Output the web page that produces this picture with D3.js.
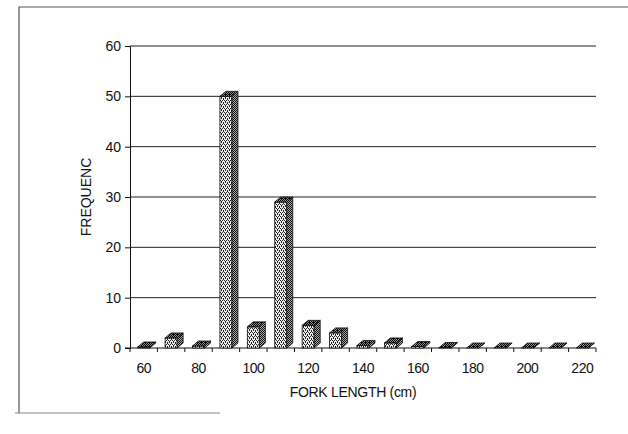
<!DOCTYPE html>
<html>
<head>
<meta charset="utf-8">
<script src="https://cdn.jsdelivr.net/npm/d3@7"></script>
<style>
  html, body { margin: 0; padding: 0; background: #fff; }
  svg { display: block; font-family: "Liberation Sans", Arial, sans-serif; }
</style>
</head>
<body>
<svg id="chart" width="628" height="434"></svg>
<script>
// Fork length classes (cm) and counts per class
const lengthClasses = [60, 70, 80, 90, 100, 110, 120, 130, 140, 150, 160, 170, 180, 190, 200, 210, 220];
const frequency     = [0.2, 2, 0.4, 50, 4.2, 29, 4.5, 3, 0.5, 1, 0.3, 0.1, 0, 0, 0, 0, 0];
const yTicks = [0, 10, 20, 30, 40, 50, 60];
const xLabelClasses = [60, 80, 100, 120, 140, 160, 180, 200, 220];

const svg = d3.select("#chart");
const margin = { left: 130, right: 32, top: 46, bottom: 86 };
const W = 628, H = 434;
const x0 = margin.left, x1 = W - margin.right;
const yTop = margin.top, yBase = 348;

const x = d3.scaleBand().domain(lengthClasses).range([x0, x1])
  .paddingInner(0.56).paddingOuter(0.28);
const y = d3.scaleLinear().domain([0, 60]).range([yBase, yTop]);

// stipple fills for the bar faces
const defs = svg.append("defs");
function stipple(id, bg, dot, dots) {
  const p = defs.append("pattern").attr("id", id)
    .attr("width", 4).attr("height", 4).attr("patternUnits", "userSpaceOnUse");
  p.append("rect").attr("width", 4).attr("height", 4).attr("fill", bg);
  dots.forEach(([px, py]) =>
    p.append("rect").attr("x", px).attr("y", py).attr("width", 1).attr("height", 1).attr("fill", dot));
}
stipple("frontFill", "#eeeeee", "#222", [[0, 0], [2, 0], [1, 2], [3, 2], [1, 1], [3, 3]]);
stipple("sideFill", "#a8a8a8", "#111", [[0, 0], [2, 0], [1, 1], [3, 1], [0, 2], [2, 2], [1, 3], [3, 3]]);
stipple("topFill", "#8a8a8a", "#000", [[0, 0], [2, 0], [1, 1], [3, 1], [0, 2], [2, 2], [1, 3], [3, 3], [1, 2]]);

// outer frame
svg.append("path").attr("d", `M19,413 L19,7 L628,7`)
  .attr("fill", "none").attr("stroke", "#555").attr("stroke-width", 1.2);
svg.append("line").attr("x1", 15).attr("x2", 220).attr("y1", 413).attr("y2", 413)
  .attr("stroke", "#888").attr("stroke-width", 1.2);

// horizontal gridlines
svg.append("g").selectAll("line").data(yTicks.filter(d => d > 0)).join("line")
  .attr("x1", x0).attr("x2", x1)
  .attr("y1", d => y(d)).attr("y2", d => y(d))
  .attr("stroke", "#222").attr("stroke-width", 1);

// y axis
const yAxis = d3.axisLeft(y).tickValues(yTicks).tickSize(5).tickPadding(4);
const gy = svg.append("g").attr("transform", `translate(${x0},0)`).call(yAxis);
gy.select(".domain").attr("stroke", "#111");
gy.selectAll(".tick line").attr("stroke", "#111");
gy.selectAll("text").attr("font-size", 14).attr("fill", "#111")
  .attr("font-family", "Liberation Sans, Arial, sans-serif");

// x axis baseline with ticks between classes
svg.append("line").attr("x1", x0 - 5).attr("x2", x1).attr("y1", yBase).attr("y2", yBase)
  .attr("stroke", "#111");
const bounds = lengthClasses.map(d => x(d) - x.step() * x.paddingInner() / 2).concat([x1]);
svg.append("g").selectAll("line").data(bounds).join("line")
  .attr("x1", d => d).attr("x2", d => d).attr("y1", yBase).attr("y2", yBase + 4)
  .attr("stroke", "#111");
svg.append("g").selectAll("text").data(xLabelClasses).join("text")
  .attr("x", d => x(d) + x.bandwidth() / 2).attr("y", yBase + 25)
  .attr("text-anchor", "middle").attr("font-size", 14).attr("fill", "#111")
  .attr("letter-spacing", -0.5)
  .text(d => d);

// 3D bars
const dx = 6, dy = -5, bw = x.bandwidth();
const bars = svg.append("g").selectAll("g").data(lengthClasses.map((c, i) => ({ c, v: frequency[i] }))).join("g");
bars.append("rect")
  .attr("x", d => x(d.c)).attr("y", d => y(d.v))
  .attr("width", bw).attr("height", d => yBase - y(d.v))
  .attr("fill", "url(#frontFill)").attr("stroke", "#111").attr("stroke-width", 0.8);
bars.append("path")
  .attr("d", d => {
    const l = x(d.c), t = y(d.v);
    return `M${l + bw},${t} L${l + bw + dx},${t + dy} L${l + bw + dx},${yBase + dy} L${l + bw},${yBase} Z`;
  })
  .attr("fill", "url(#sideFill)").attr("stroke", "#111").attr("stroke-width", 0.8);
bars.append("path")
  .attr("d", d => {
    const l = x(d.c), t = y(d.v);
    return `M${l},${t} L${l + dx},${t + dy} L${l + bw + dx},${t + dy} L${l + bw},${t} Z`;
  })
  .attr("fill", "url(#topFill)").attr("stroke", "#111").attr("stroke-width", 0.8);

// axis titles
svg.append("text")
  .attr("transform", `translate(91,${(yTop + yBase) / 2}) rotate(-90)`)
  .attr("text-anchor", "middle").attr("font-size", 14).attr("fill", "#111")
  .text("FREQUENC");
svg.append("text")
  .attr("x", 353).attr("y", 397)
  .attr("text-anchor", "middle").attr("font-size", 14).attr("fill", "#111")
  .attr("letter-spacing", -0.3)
  .text("FORK LENGTH (cm)");
</script>
</body>
</html>
